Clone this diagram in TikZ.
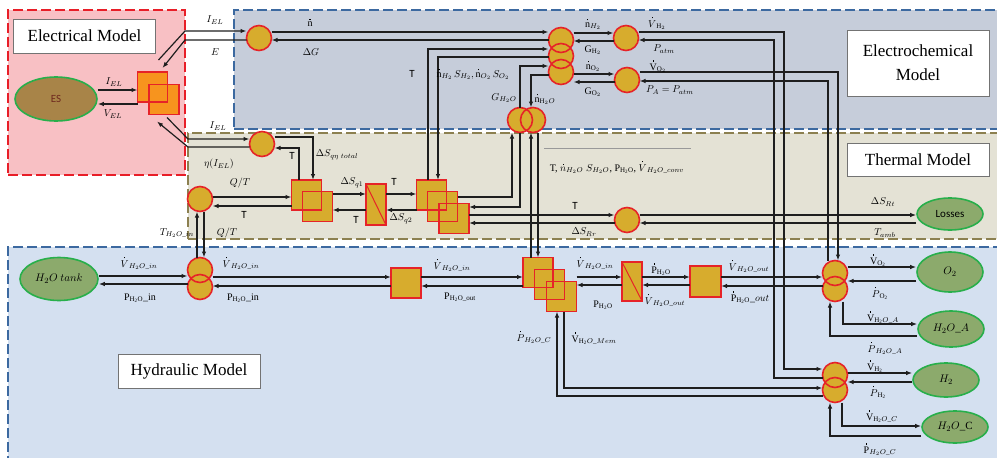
\documentclass[tikz,border=0pt]{standalone}
\usepackage{amsmath}
\usepackage{fontspec}
\setmainfont{Liberation Serif}
\newfontfamily\calib{Carlito}
\usetikzlibrary{arrows.meta,positioning,shapes.geometric}
\definecolor{elbg}{RGB}{248,192,196}
\definecolor{elline}{RGB}{232,30,40}
\definecolor{ecbg}{RGB}{198,205,218}
\definecolor{ecline}{RGB}{60,105,160}
\definecolor{thbg}{RGB}{228,226,213}
\definecolor{thline}{RGB}{140,128,80}
\definecolor{hybg}{RGB}{212,224,240}
\definecolor{gold}{RGB}{215,172,45}
\definecolor{rim}{RGB}{230,35,40}
\definecolor{orng}{RGB}{247,148,30}
\definecolor{esfill}{RGB}{168,132,72}
\definecolor{leaf}{RGB}{140,170,108}
\definecolor{leafrim}{RGB}{40,175,75}
\definecolor{wire}{RGB}{30,30,30}
\newcommand{\fd}[1]{\overset{\rule{1.1pt}{1.1pt}}{#1}}

\begin{document}
\begin{tikzpicture}[x=1pt,y=-1pt,
  lbl/.style={font=\fontsize{10}{12}\selectfont,inner sep=1pt},
  sfl/.style={font=\calib\fontsize{11}{13}\selectfont,inner sep=1pt},
  title/.style={draw=black!55,fill=white,line width=0.6pt,font=\fontsize{17}{24}\selectfont,
    inner sep=0,align=center,minimum width=142pt},
  zone/.style={line width=1.8pt,dash pattern=on 10pt off 4pt,inner sep=0,outer sep=0},
  bub/.style={circle,fill=gold,minimum size=25pt,inner sep=0,outer sep=0},
  ring/.style={draw=rim,line width=1.6pt},
  blk/.style={rectangle,fill=gold,minimum size=30pt,inner sep=0,outer sep=0},
  eblk/.style={blk,fill=orng},
  conv/.style={rectangle,fill=gold,draw=rim,line width=1.6pt,minimum width=20pt,inner sep=0,outer sep=0},
  pool/.style={ellipse,fill=leaf,draw=leafrim,line width=1.6pt,inner sep=0,font=\fontsize{11}{13}\selectfont},
  arr/.style={-{Latex[length=6pt,width=4.5pt]},draw=wire,line width=1.2pt}]
\useasboundingbox (0,0) rectangle (997,458);
\clip (0,0) rectangle (997,458);
% ---- model zones ----
\node[zone,fill=elbg,draw=elline,minimum width=177pt,minimum height=165pt] (elbox) at (96.5,92.5) {};
\node[zone,fill=ecbg,draw=ecline,minimum width=776pt,minimum height=119pt] (ecbox) at (622,69.5) {};
\node[zone,fill=thbg,draw=thline,minimum width=822pt,minimum height=106pt] (thbox) at (599,186) {};
\node[zone,fill=hybg,draw=ecline,minimum width=1002pt,minimum height=223pt] (hybox) at (509,358.5) {};
\node[title,minimum height=34pt] (eltitle) at (84.5,36) {Electrical Model};
\node[title,minimum height=66pt] (ectitle) at (918,63) {Electrochemical\\Model};
\node[title,minimum height=33pt] (thtitle) at (918,159.5) {Thermal Model};
\node[title,minimum height=34pt] (hytitle) at (189,371) {Hydraulic Model};
\draw[black!40,line width=1pt] (544,148) -- (691,148);

% ---- electrical ----
\node[ellipse,fill=esfill,draw=leafrim,line width=1.6pt,minimum width=82pt,minimum height=44pt,
  font=\calib\fontsize{11}{13}\selectfont,text={rgb,255:red,110;green,40;blue,30}] (ES) at (56,99) {ES};
\node[eblk] (elA) at (152.5,87) {};
\node[eblk] (elB) at (164,99.5) {};

% ---- electrochemical ----
\node[bub] (ecG) at (259,38) {};
\node[bub] (tc1) at (561,40) {};
\node[bub] (tc2) at (561,56) {};
\node[bub] (tc3) at (561,72) {};
\node[bub] (h2c) at (626,38) {};
\node[bub] (o2c) at (627,80) {};
\node[bub] (wl) at (520,120) {};
\node[bub] (wr) at (533,120) {};

% ---- thermal ----
\node[bub] (tq) at (262,144) {};
\node[bub] (tl) at (200,199) {};
\node[blk] (tsA) at (306.5,195) {};
\node[blk] (tsB) at (317.5,206.5) {};
\node[conv,minimum height=41pt] (tconv) at (376,204.5) {};
\node[blk] (ttA) at (431.5,195) {};
\node[blk] (ttB) at (442.5,206.5) {};
\node[blk] (ttC) at (454,218.5) {};
\node[bub] (tloss) at (627,220) {};
\node[pool,minimum width=66pt,minimum height=32pt,font=\calib\fontsize{11}{13}\selectfont] (Losses) at (950,214) {Losses};

% ---- hydraulic ----
\node[pool,minimum width=78pt,minimum height=43pt] (tank) at (59,279) {$H_2O\ tank$};
\node[bub] (hc1) at (200,270) {};
\node[bub] (hc2) at (200,287) {};
\node[blk] (hs1) at (406,283) {};
\node[blk] (htA) at (538,272.5) {};
\node[blk] (htB) at (549.5,284.5) {};
\node[blk] (htC) at (561.5,296.5) {};
\node[conv,minimum height=39pt] (hconv) at (632,281.5) {};
\node[blk,minimum size=31pt] (hs2) at (705.5,281.5) {};
\node[bub] (ho1) at (835,273) {};
\node[bub] (ho2) at (835,289) {};
\node[bub] (hh1) at (835,375) {};
\node[bub] (hh2) at (835,390) {};
\node[pool,minimum width=66pt,minimum height=40pt] (O2) at (950,272) {$O_2$};
\node[pool,minimum width=66pt,minimum height=36pt] (H2OA) at (951,329) {$H_2O\_A$};
\node[pool,minimum width=66pt,minimum height=34pt] (H2) at (946,380) {$H_2$};
\node[pool,minimum width=66pt,minimum height=32pt] (H2OC) at (955,427) {$H_2O\_\mathrm{C}$};

% outlines on top of the fills
\foreach \b in {ecG,tc1,tc2,tc3,h2c,o2c,wl,wr,tq,tl,tloss,hc1,hc2,ho1,ho2,hh1,hh2}
  \draw[ring] (\b.center) circle[radius=12.5];
\foreach \b in {elA,elB,tsA,tsB,ttA,ttB,ttC,hs1,htA,htB,htC,hs2}
  \draw[ring] (\b.south west) rectangle (\b.north east);
\draw[rim,line width=1pt] (tconv.north west) -- (tconv.south east);
\draw[rim,line width=1pt] (hconv.north west) -- (hconv.south east);

% ---- connectors: electrical ----
\draw[arr] ([yshift=9]ES.east) -- ([yshift=9]ES.east -| elA.west);
\draw[arr] ([yshift=-5]ES.east -| elA.west) -- ([yshift=-5]ES.east);
\draw[arr] ([xshift=6,yshift=12]elA.north) -- ([yshift=7]ecG.west -| elbox.east) -- ([yshift=7]ecG.west);
\draw[arr] ([yshift=-2]ecG.west) -- ([yshift=-2]ecG.west -| elbox.east) -- ([xshift=10,yshift=4]elA.north);
\draw[arr] ([xshift=3,yshift=-3]elB.south) -- ([yshift=5]tq.west -| thbox.west) -- ([yshift=5]tq.west);
\draw[arr] ([yshift=-3]tq.west) -- ([yshift=-3]tq.west -| thbox.west) -- ([xshift=-7,yshift=-7]elB.south);

% ---- connectors: electrochemical ----
\draw[arr] ([yshift=6]ecG.east) -- ([yshift=6]ecG.east -| tc1.west);
\draw[arr] ([yshift=-2]ecG.east -| tc1.west) -- ([yshift=-2]ecG.east);
\draw[arr] ([xshift=-3.5]ttA.north) |- ([yshift=-9]tc1.west);
\draw[arr] ([yshift=-1]tc2.west) -| ([xshift=6.5]ttA.north);
\draw[arr] ([yshift=7]tc1.east) -- ([yshift=7]tc1.east -| h2c.west);
\draw[arr] ([yshift=-1]tc1.east -| h2c.west) -- ([yshift=-1]tc1.east);
\draw[arr] ([yshift=-2]tc3.east) -- ([yshift=-2]tc3.east -| o2c.west);
\draw[arr] ([yshift=-10]tc3.east -| o2c.west) -- ([yshift=-10]tc3.east);
\draw[arr] ([yshift=6]h2c.east) -| ([xshift=-38.5,yshift=6]hh1.west) -- ([yshift=6]hh1.west);
\draw[arr] ([yshift=-3]hh1.west) -| ([xshift=135.5,yshift=-2]h2c.east) -- ([yshift=-2]h2c.east);
\draw[arr] ([yshift=8]o2c.east) -| ([xshift=3]ho1.north);
\draw[arr] ([xshift=-7]ho1.north) |- ([yshift=-1]o2c.east);
\draw[arr] (wl.north) |- ([yshift=6]tc3.west);
\draw[arr] ([yshift=-3]tc3.west) -| ([xshift=-2]wr.north);
\draw[arr] ([yshift=9.5]ttB.east) -| ([xshift=-8]wl.south);
\draw[arr] (wl.south) |- ([yshift=11.5]ttC.east);
\draw[arr] ([xshift=-7]htA.north) -- ([xshift=-7]htA.north |- wr.south);
\draw[arr] ([xshift=5]wr.south) -- ([xshift=5]wr.south |- htA.north);

% ---- connectors: thermal ----
\draw[arr] ([yshift=7]tq.east) -| ([xshift=6.5]tsA.north);
\draw[arr] ([xshift=-7.5]tsA.north) |- ([yshift=-4]tq.east);
\draw[arr] ([yshift=2]tl.east) -- ([yshift=2]tl.east -| tsA.west);
\draw[arr] ([yshift=-7]tl.east -| tsA.west) -- ([yshift=-7]tl.east);
\draw[arr] ([yshift=12.5]tsB.east) -- ([yshift=12.5]tsB.east -| tconv.west);
\draw[arr] ([yshift=-3.5]tsB.east -| tconv.west) -- ([yshift=-3.5]tsB.east);
\draw[arr] ([yshift=10.5]tconv.east) -- ([yshift=10.5]tconv.east -| ttA.west);
\draw[arr] ([yshift=-5.5]tconv.east -| ttA.west) -- ([yshift=-5.5]tconv.east);
\draw[arr] ([yshift=5]tloss.west -| ttC.east) -- ([yshift=5]tloss.west);
\draw[arr] ([yshift=-3]tloss.west) -- ([yshift=-3]tloss.west -| ttC.east);
\draw[arr] ([yshift=5]tloss.east) -- ([yshift=5]tloss.east -| Losses.west);
\draw[arr] ([yshift=-3]tloss.east -| Losses.west) -- ([yshift=-3]tloss.east);
\draw[arr] ([xshift=-3]hc1.north) -- ([xshift=-3]hc1.north |- tl.south);
\draw[arr] ([xshift=4]tl.south) -- ([xshift=4]tl.south |- hc1.north);

% ---- connectors: hydraulic ----
\draw[arr] ([yshift=3]tank.east) -- ([yshift=3]tank.east -| hc1.west);
\draw[arr] ([yshift=-5]tank.east -| hc2.west) -- ([yshift=-5]tank.east);
\draw[arr] ([yshift=-7]hc1.east) -- ([yshift=-7]hc1.east -| hs1.west);
\draw[arr] ([yshift=1]hc2.east -| hs1.west) -- ([yshift=1]hc2.east);
\draw[arr] ([yshift=6]hs1.east) -- ([yshift=6]hs1.east -| htA.west);
\draw[arr] ([yshift=-3]hs1.east -| htA.west) -- ([yshift=-3]hs1.east);
\draw[arr] ([yshift=4.5]hconv.west -| htC.east) -- ([yshift=4.5]hconv.west);
\draw[arr] ([yshift=-3.5]hconv.west) -- ([yshift=-3.5]hconv.west -| htC.east);
\draw[arr] ([yshift=4.5]hconv.east) -- ([yshift=4.5]hconv.east -| hs2.west);
\draw[arr] ([yshift=-3.5]hconv.east -| hs2.west) -- ([yshift=-3.5]hconv.east);
\draw[arr] ([yshift=4.5]hs2.east) -- ([yshift=4.5]hs2.east -| ho1.west);
\draw[arr] ([yshift=3]ho2.west) -- ([yshift=3]ho2.west -| hs2.east);
\draw[arr] ([yshift=6]ho1.east) -- ([yshift=6]ho1.east -| O2.west);
\draw[arr] ([yshift=-8]ho1.east -| O2.west) -- ([yshift=-8]ho1.east);
\draw[arr] ([xshift=8]ho2.south) |- ([yshift=5]H2OA.west);
\draw[arr] ([yshift=-7]H2OA.west) -| ([xshift=-5]ho2.south);
\draw[arr] ([yshift=2]hh1.east) -- ([yshift=2]hh1.east -| H2.west);
\draw[arr] ([yshift=-7]hh1.east -| H2.west) -- ([yshift=-7]hh1.east);
\draw[arr] ([xshift=7]hh2.south) |- ([yshift=1]H2OC.west);
\draw[arr] ([yshift=-9]H2OC.west) -| ([xshift=-5]hh2.south);
\draw[arr] ([xshift=2.5]htC.south) |- ([yshift=2]hh2.west);
\draw[arr] ([yshift=-6]hh2.west) -| ([xshift=-4.5]htC.south);

% ---- labels ----
\node[lbl] (tIel) at (215,20) {$I_{EL}$};
\node[lbl] (tE) at (215,52) {$E$};
\node[lbl] (tIes) at (114,82) {$I_{EL}$};
\node[lbl] (tVes) at (113,114) {$V_{EL}$};
\node[lbl] (tIth) at (218,126) {$I_{EL}$};
\node[lbl] (teta) at (219,164) {$\eta(I_{EL})$};
\node[lbl] (tn) at (310,22) {$\fd{\mathrm{n}}$};
\node[lbl] (tdG) at (311,52) {$\Delta G$};
\node[sfl] (tT1) at (412,74) {T};
\node[lbl] (tnS) at (473,74) {$\fd{\mathrm{n}}_{H_2}\,S_{H_2},\fd{\mathrm{n}}_{O_2}\,S_{O_2}$};
\node[lbl] (tnH2) at (593,24) {$\fd{\mathrm{n}}_{H_2}$};
\node[lbl] (tGH2) at (593,50) {$\mathrm{G}_{\mathrm{H}_2}$};
\node[lbl] (tnO2) at (593,66) {$\fd{\mathrm{n}}_{\mathrm{O}_2}$};
\node[lbl] (tGO2) at (593,92) {$\mathrm{G}_{\mathrm{O}_2}$};
\node[lbl] (tVH2e) at (657,23) {$\fd{V}_{\mathrm{H}_2}$};
\node[lbl] (tPatm) at (664,49) {$P_{atm}$};
\node[lbl] (tVO2e) at (658,66) {$\fd{\mathrm{V}}_{\mathrm{O}_2}$};
\node[lbl] (tPA) at (670,90) {$P_A = P_{atm}$};
\node[lbl] (tGw) at (504,98) {$G_{H_2O}$};
\node[lbl] (tnw) at (545,99) {$\fd{\mathrm{n}}_{\mathrm{H}_2O}$};
\node[lbl] (tdSqe) at (337,155) {$\Delta S_{q\eta\;total}$};
\node[sfl] (tT2) at (292,156) {T};
\node[lbl] (tQT1) at (240,183) {$Q/T$};
\node[sfl] (tT3) at (244,215) {T};
\node[lbl] (tdSq1) at (352,183) {$\Delta S_{q1}$};
\node[sfl] (tT4) at (356,220) {T};
\node[sfl] (tT5) at (394,182) {T};
\node[lbl] (tdSq2) at (401,219) {$\Delta S_{q2}$};
\node[lbl] (tconvx) at (617,167) {T, $\fd{n}_{H_2O}\;S_{H_2O}$, P$_{\mathrm{H_2O}}$, $\fd{V}_{H_2O\_conv}$};
\node[sfl] (tT6) at (575,206) {T};
\node[lbl] (tdSRr) at (584,232) {$\Delta S_{Rr}$};
\node[lbl] (tdSRt) at (883,202) {$\Delta S_{Rt}$};
\node[lbl] (tTamb) at (885,233) {$T_{amb}$};
\node[lbl] (tTw) at (177,233) {$T_{H_2O\_in}$};
\node[lbl] (tQT2) at (227,233) {$Q/T$};
\node[lbl] (tVin1) at (139,263) {$\fd{V}_{H_2O\_in}$};
\node[lbl] (tPin1) at (140,298) {P$_{\mathrm{H_2O}}$\_in};
\node[lbl] (tVin2) at (241,263) {$\fd{V}_{H_2O\_in}$};
\node[lbl] (tPin2) at (243,298) {P$_{\mathrm{H_2O}}$\_in};
\node[lbl] (tVin3) at (452,265) {$\fd{V}_{H_2O\_in}$};
\node[lbl] (tPout) at (460,297) {P$_{\mathrm{H_2O\_out}}$};
\node[lbl] (tVin4) at (595,263) {$\fd{V}_{H_2O\_in}$};
\node[lbl] (tPw) at (603,305) {P$_{\mathrm{H_2O}}$};
\node[lbl] (tPdw) at (661,269) {$\fd{\mathrm{P}}_{\mathrm{H_2O}}$};
\node[lbl] (tVout1) at (665,300) {$\fd{V}_{H_2O\_out}$};
\node[lbl] (tVout2) at (749,266) {$\fd{V}_{H_2O\_out}$};
\node[lbl] (tPout2) at (750,297) {$\fd{\mathrm{P}}_{\mathrm{H_2O}}\_out$};
\node[lbl] (tVO2h) at (878,260) {$\fd{\mathrm{V}}_{\mathrm{O_2}}$};
\node[lbl] (tPO2h) at (880,293) {$\fd{P}_{\mathrm{O_2}}$};
\node[lbl] (tVA) at (883,317) {$\fd{\mathrm{V}}_{\mathrm{H_2}O\_A}$};
\node[lbl] (tPA2) at (885,348) {$\fd{P}_{H_2O\_A}$};
\node[lbl] (tVH2h) at (875,366) {$\fd{\mathrm{V}}_{\mathrm{H_2}}$};
\node[lbl] (tPH2h) at (878,392) {$\fd{P}_{\mathrm{H_2}}$};
\node[lbl] (tVC) at (882,416) {$\fd{\mathrm{V}}_{\mathrm{H_2}O\_C}$};
\node[lbl] (tPC) at (880,449) {$\fd{\mathrm{P}}_{H_2O\_C}$};
\node[lbl] (tPCm) at (534,337) {$\fd{P}_{H_2O\_C}$};
\node[lbl] (tVMem) at (594,338) {$\fd{\mathrm{V}}_{\mathrm{H_2}O\_Mem}$};
\end{tikzpicture}
\end{document}
